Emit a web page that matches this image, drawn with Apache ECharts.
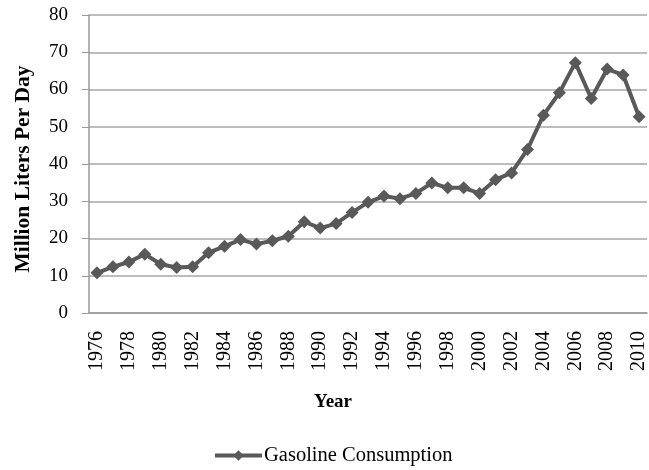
<!DOCTYPE html>
<html>
<head>
<meta charset="utf-8">
<script src="https://cdn.jsdelivr.net/npm/echarts@6/dist/echarts.min.js"></script>
<style>html,body{margin:0;padding:0;background:#fff}#c{width:649px;height:470px}</style>
</head>
<body>
<div id="c"></div>
<script>
var years = ['1976','1977','1978','1979','1980','1981','1982','1983','1984','1985','1986','1987','1988','1989','1990','1991','1992','1993','1994','1995','1996','1997','1998','1999','2000','2001','2002','2003','2004','2005','2006','2007','2008','2009','2010'];
var gasoline = [10.8,12.4,13.7,15.8,13.1,12.2,12.4,16.2,17.9,19.7,18.5,19.4,20.6,24.5,22.8,24.0,27.0,29.7,31.4,30.7,32.1,34.9,33.6,33.6,32.1,35.8,37.6,43.9,53.1,59.1,67.2,57.6,65.5,63.9,52.7];
var seriesName = 'Gasoline Consumption';
var yTitle = 'Million Liters Per Day';
var xTitle = 'Year';

var font = '"Liberation Serif", "Times New Roman", serif';
var chart = echarts.init(document.getElementById('c'));
chart.setOption({
  animation: false,
  textStyle: {fontFamily: font},
  grid: {left: 89, right: -5, top: 15, bottom: 157, containLabel: false},
  legend: {
    data: [seriesName],
    bottom: -1,
    left: 208,
    itemWidth: 47,
    itemHeight: 13,
    itemGap: 4,
    lineStyle: {width: 4, color: '#595959'},
    itemStyle: {color: '#595959'},
    textStyle: {fontFamily: font, fontSize: 20.5, color: '#000', padding: [0, 0, 0, -3]}
  },
  xAxis: {
    type: 'category',
    data: years,
    boundaryGap: true,
    name: xTitle,
    nameLocation: 'middle',
    nameGap: 80,
    nameTextStyle: {fontFamily: font, fontSize: 19, fontWeight: 'bold', color: '#000', padding: [0, 70, 0, 0]},
    axisLine: {lineStyle: {color: '#999', width: 1.5}},
    axisTick: {alignWithLabel: true, length: 5, lineStyle: {color: '#999'}},
    axisLabel: {interval: 1, rotate: 90, margin: 18, fontFamily: font, fontSize: 20, color: '#000'}
  },
  yAxis: {
    type: 'value',
    min: 0, max: 80, interval: 10,
    name: yTitle,
    nameLocation: 'middle',
    nameGap: 55,
    nameTextStyle: {fontFamily: font, fontSize: 21.5, fontWeight: 'bold', color: '#000', padding: [0, 10, 0, 0]},
    axisLine: {show: true, lineStyle: {color: '#999', width: 1.5}},
    axisTick: {show: true, length: 7, lineStyle: {color: '#999'}},
    axisLabel: {margin: 21, fontFamily: font, fontSize: 19, color: '#000'},
    splitLine: {lineStyle: {color: '#a6a6a6', width: 1.5}}
  },
  series: [{
    name: seriesName,
    type: 'line',
    data: gasoline,
    symbol: 'diamond',
    symbolSize: 13,
    showAllSymbol: true,
    itemStyle: {color: '#595959'},
    lineStyle: {color: '#595959', width: 4}
  }]
});
</script>
</body>
</html>
